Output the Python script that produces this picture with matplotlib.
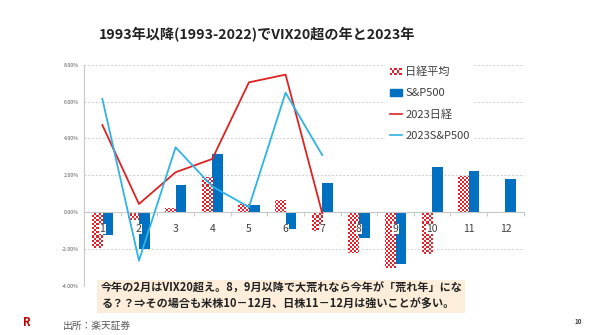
import matplotlib
matplotlib.use('Agg')
import matplotlib.pyplot as plt
import numpy as np
from matplotlib.colors import ListedColormap
from matplotlib.legend_handler import HandlerBase
from matplotlib.patches import Rectangle, Patch
from matplotlib.lines import Line2D

plt.rcParams['font.family'] = ['Noto Sans CJK JP', 'DejaVu Sans']

# ── Data (monthly returns, %) ────────────────────────────────────────────────
months      = [1, 2, 3, 4, 5, 6, 7, 8, 9, 10, 11, 12]
nikkei_avg  = [-1.95, -0.40, 0.25, 1.90, 0.43, 0.65, -1.00, -2.20, -3.00, -2.25, 1.98, -0.05]
sp500_avg   = [-1.25, -2.00, 1.50, 3.18, 0.40, -0.90, 1.60, -1.37, -2.80, 2.43, 2.22, 1.80]
months_2023 = [1, 2, 3, 4, 5, 6, 7]
nikkei_2023 = [4.73, 0.45, 2.17, 2.89, 7.04, 7.46, -0.05]
sp500_2023  = [6.15, -2.62, 3.52, 1.40, 0.28, 6.48, 3.10]
yticks      = [-4, -2, 0, 2, 4, 6, 8]

RED   = '#E8202A'
BLUE  = '#0070C0'
LRED  = '#DD2222'
CYAN  = '#2FB3E6'
GRID  = '#C8C8C8'


class CheckerHandler(HandlerBase):
    # small red/white checkerboard swatch for the legend
    def create_artists(self, legend, orig_handle, xdescent, ydescent,
                       width, height, fontsize, trans):
        nx, ny = 5, 3
        arts = []
        for i in range(nx):
            for j in range(ny):
                c = RED if (i + j) % 2 == 0 else 'white'
                arts.append(Rectangle((-xdescent + i * width / nx, -ydescent + j * height / ny),
                                      width / nx, height / ny, facecolor=c,
                                      edgecolor='none', transform=trans))
        return arts


fig = plt.figure(figsize=(6, 3.35), dpi=100)
ax = fig.add_axes([0.14, 0.146, 0.733, 0.661])

x = np.array(months)
w = 0.29
bars_nk = ax.bar(x - w / 2, nikkei_avg, w, color='white', edgecolor='none', zorder=2)
ax.bar(x + w / 2, sp500_avg, w, color=BLUE, edgecolor='none', zorder=2)

# checkerboard fill for the Nikkei bars, clipped to each bar
nx, ny = 220, 110
checker = np.indices((ny, nx)).sum(0) % 2
cmap = ListedColormap(['white', RED])
for b in bars_nk:
    im = ax.imshow(checker, cmap=cmap, extent=(0, 1, 0, 1), transform=ax.transAxes,
                   interpolation='nearest', aspect='auto', zorder=2.1)
    im.set_clip_path(b)

ax.plot(months_2023, nikkei_2023, color=LRED, lw=1.3, zorder=4)
ax.plot(months_2023, sp500_2023, color=CYAN, lw=1.3, zorder=4)

# month labels sit just under the zero line
for m in months:
    ax.annotate(str(m), (m, 0), xytext=(0, -12), textcoords='offset points',
                ha='center', va='center', fontsize=7.5, color='#404040', zorder=3,
                bbox=dict(facecolor='white', edgecolor='none', pad=0.3))

ax.set_xlim(0.5, 12.5)
ax.set_ylim(-4, 8)
ax.set_xticks(np.arange(0.5, 13, 1))
ax.set_xticklabels([])
ax.set_yticks(yticks)
ax.set_yticklabels([f'{v:.2f}%' for v in yticks], fontsize=3.8, color='#595959')
ax.tick_params(axis='y', length=0, pad=3.5)
ax.tick_params(axis='x', length=3, width=0.7, color=GRID, direction='out')
for v in yticks:
    if v != 0:
        ax.axhline(v, color=GRID, lw=0.6, ls=(0, (2.5, 2)), zorder=0)
ax.spines['bottom'].set_position(('data', 0))
ax.spines['bottom'].set_color(GRID)
ax.spines['left'].set_color(GRID)
ax.spines['top'].set_visible(False)
ax.spines['right'].set_visible(False)
ax.set_facecolor('none')

handles = [Patch(), Patch(color=BLUE), Line2D([], [], color=LRED, lw=1.2),
           Line2D([], [], color=CYAN, lw=1.2)]
labels = ['日経平均', 'S&P500', '2023日経', '2023S&P500']
leg = ax.legend(handles, labels, loc='upper left', bbox_to_anchor=(0.672, 1.036),
                fontsize=8, handlelength=1.1, handleheight=0.6, handletextpad=0.3,
                labelspacing=1.0, borderpad=0.4, frameon=True, fancybox=False,
                facecolor='white', edgecolor='none', framealpha=1,
                handler_map={handles[0]: CheckerHandler()})
leg.set_zorder(5)
for t in leg.get_texts():
    t.set_color('#404040')

fig.text(257 / 600, 1 - 35 / 335, '1993年以降(1993-2022)でVIX20超の年と2023年',
         ha='center', va='center', fontsize=10.2, fontweight='bold', color='#222222')

# note box
fig.patches.append(Rectangle((97 / 600, 1 - 313 / 335), 368 / 600, 33 / 335,
                             transform=fig.transFigure, facecolor='#FDEEDB',
                             edgecolor='none', zorder=0))
fig.text(101 / 600, 1 - 296.5 / 335,
         '今年の2月はVIX20超え。8，9月以降で大荒れなら今年が「荒れ年」にな\n'
         'る？？⇒その場合も米株10－12月、日株11－12月は強いことが多い。',
         ha='left', va='center', fontsize=8, fontweight='bold', color='#222222',
         linespacing=1.3)

fig.text(27 / 600, 1 - 323 / 335, 'R', ha='center', va='center', fontsize=8,
         fontweight='bold', color='#C00000')
fig.text(63 / 600, 1 - 326 / 335, '出所：楽天証券', ha='left', va='center',
         fontsize=7, color='#595959')
fig.text(578 / 600, 1 - 321 / 335, '10', ha='center', va='center', fontsize=4.5,
         fontweight='bold', color='#404040')

fig.savefig('out.png', dpi=100, facecolor='white')
